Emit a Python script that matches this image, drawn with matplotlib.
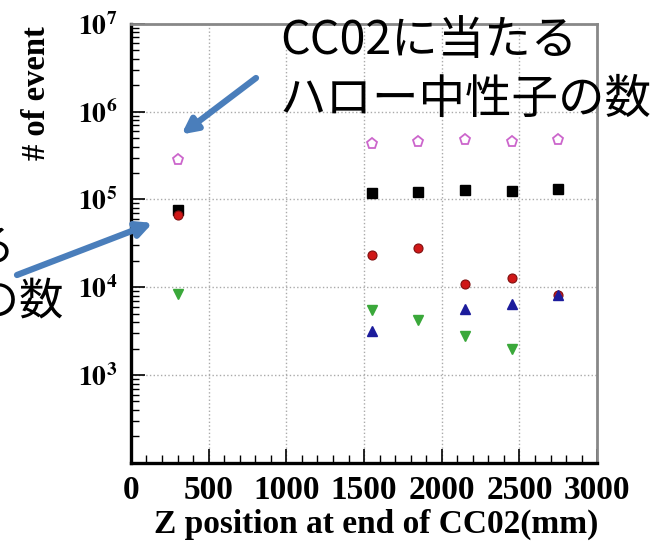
import matplotlib
matplotlib.use("Agg")
import matplotlib.pyplot as plt
from matplotlib.ticker import FixedLocator, MultipleLocator, NullFormatter

plt.rcParams['mathtext.fontset'] = 'stix'

# Z position at end of CC02 (mm)
z_pos = [300, 1550, 1850, 2150, 2450, 2750]

# event counts per particle category
halo_neutron = [2.8e5, 4.3e5, 4.5e5, 4.7e5, 4.5e5, 4.7e5]
black_series = [7.5e4, 1.19e5, 1.23e5, 1.28e5, 1.25e5, 1.3e5]
red_series = [6.6e4, 2.3e4, 2.8e4, 1.08e4, 1.26e4, 8.1e3]
green_z = [300, 1550, 1850, 2150, 2450]
green_series = [8.3e3, 5.5e3, 4.2e3, 2.8e3, 2.0e3]
blue_z = [1550, 2150, 2450, 2750]
blue_series = [3.2e3, 5.6e3, 6.4e3, 8.1e3]

x_ticks = [0, 500, 1000, 1500, 2000, 2500, 3000]
y_decades = [1e3, 1e4, 1e5, 1e6, 1e7]
y_tick_labels = [r'$\mathbf{10^{3}}$', r'$\mathbf{10^{4}}$', r'$\mathbf{10^{5}}$',
                 r'$\mathbf{10^{6}}$', r'$\mathbf{10^{7}}$']

top_note_1 = "CC02に当たる"
top_note_2 = "ハロー中性子の数"
left_note_1 = "CC02に当たる"
left_note_2 = "コア中性子の数"

fig = plt.figure(figsize=(6.68, 5.42), dpi=100)
ax = fig.add_axes([0.196, 0.146, 0.698, 0.810])
ax.set_yscale('log')
ax.set_xlim(0, 3000)
ax.set_ylim(1e2, 1e7)

ax.grid(True, which='major', color='#aaaaaa', linestyle=':', linewidth=1.0)
ax.set_axisbelow(True)

ax.plot(z_pos, halo_neutron, linestyle='none', marker='p', markersize=8,
        markerfacecolor='none', markeredgecolor='#cc66cc', markeredgewidth=1.3)
ax.plot(z_pos, black_series, linestyle='none', marker='s', markersize=6.5,
        color='black')
ax.plot(z_pos, red_series, linestyle='none', marker='o', markersize=6.5,
        markerfacecolor='#d01818', markeredgecolor='#801010', markeredgewidth=0.8)
ax.plot(green_z, green_series, linestyle='none', marker='v', markersize=6.5,
        color='#3aa83a')
ax.plot(blue_z, blue_series, linestyle='none', marker='^', markersize=6.5,
        color='#1c1c9c')

# frame
for side in ('left', 'bottom'):
    ax.spines[side].set_color('black')
    ax.spines[side].set_linewidth(2.4)
for side in ('top', 'right'):
    ax.spines[side].set_color('#888888')
    ax.spines[side].set_linewidth(2.0)

ax.set_xticks(x_ticks)
ax.set_xticklabels([str(v) for v in x_ticks], fontfamily='Liberation Serif',
                   fontweight='bold', fontsize=24)
ax.xaxis.set_minor_locator(MultipleLocator(100))
ax.yaxis.set_major_locator(FixedLocator(y_decades))
ax.set_yticklabels(y_tick_labels, fontsize=20)
ax.tick_params(axis='both', which='major', direction='in', length=10, width=1.2,
               top=False, right=False)
ax.tick_params(axis='both', which='minor', direction='in', length=6, width=1.0,
               top=False, right=False)
ax.tick_params(axis='x', which='major', pad=9)
ax.tick_params(axis='y', which='major', pad=10)
ax.yaxis.set_minor_formatter(NullFormatter())

ax.set_xlabel("Z position at end of CC02(mm)", fontfamily='Liberation Serif',
              fontweight='bold', fontsize=24)
ax.xaxis.set_label_coords(0.525, -0.105)
ax.set_ylabel("# of event", fontfamily='Liberation Serif', fontweight='bold',
              fontsize=23.5)
ax.yaxis.set_label_coords(-0.17, 0.843)

jp = ['Noto Sans CJK JP', 'DejaVu Sans']
fig.text(280 / 668, 1 - 41 / 542, top_note_1, family=jp, fontsize=33.5,
         ha='left', va='center')
fig.text(280 / 668, 1 - 100 / 542, top_note_2, family=jp, fontsize=33.5,
         ha='left', va='center')
fig.text(16 / 668, 1 - 248 / 542, left_note_1, family=jp, fontsize=32,
         ha='right', va='center')
fig.text(64 / 668, 1 - 302 / 542, left_note_2, family=jp, fontsize=32,
         ha='right', va='center')

arrow_color = '#4a7ebb'
ax.annotate('', xy=(325, 5.5e5), xycoords='data',
            xytext=(256, 542 - 78), textcoords='figure pixels',
            arrowprops=dict(arrowstyle='-|>,head_length=0.9,head_width=0.45',
                            color=arrow_color, lw=4.5, shrinkA=0, shrinkB=0),
            annotation_clip=False)
ax.annotate('', xy=(140, 5.4e4), xycoords='data',
            xytext=(17, 542 - 275), textcoords='figure pixels',
            arrowprops=dict(arrowstyle='-|>,head_length=0.9,head_width=0.45',
                            color=arrow_color, lw=4.5, shrinkA=0, shrinkB=0),
            annotation_clip=False)

fig.savefig('out.png', dpi=100)
